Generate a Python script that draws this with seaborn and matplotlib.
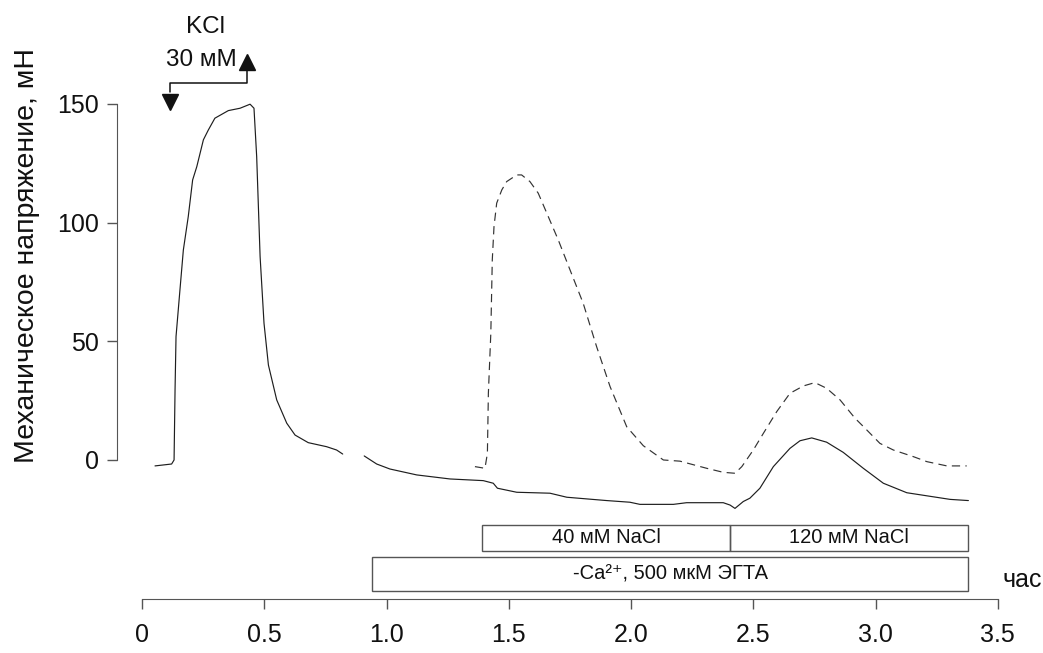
import numpy as np
import pandas as pd
import seaborn as sns
import matplotlib
matplotlib.use("Agg")
import matplotlib.pyplot as plt
from matplotlib.patches import Rectangle

# ---- data (time in hours, tension in mN) ----
solid_a_t = [0.052, 0.120, 0.130, 0.134, 0.138, 0.154, 0.168, 0.188, 0.206, 0.223, 0.250, 0.270,
             0.297, 0.352, 0.400, 0.441, 0.457, 0.468, 0.482, 0.498, 0.516, 0.550, 0.591, 0.625,
             0.679, 0.754, 0.795, 0.820]
solid_a_y = [-2.5, -1.7, 0.0, 29.5, 52.0, 71.6, 88.5, 102.5, 118.0, 123.6, 134.9, 139.0,
             144.0, 147.2, 148.2, 149.9, 148.2, 127.8, 85.7, 57.6, 40.0, 25.3, 15.5, 10.5,
             7.3, 5.6, 4.2, 2.5]

solid_b_t = [0.908, 0.959, 1.013, 1.123, 1.259, 1.395, 1.436, 1.453, 1.532, 1.668, 1.737, 1.900,
             1.995, 2.036, 2.173, 2.227, 2.377, 2.405, 2.425, 2.459, 2.486, 2.527, 2.582, 2.650,
             2.691, 2.739, 2.800, 2.868, 2.950, 3.032, 3.128, 3.305, 3.380]
solid_b_y = [1.7, -1.7, -3.8, -6.3, -8.0, -8.7, -9.8, -11.9, -13.6, -14.0, -15.7, -17.1,
             -17.8, -18.7, -18.7, -18.0, -18.0, -19.0, -20.4, -17.5, -16.1, -11.9, -2.8, 4.9,
             8.1, 9.3, 7.5, 3.2, -3.5, -9.8, -13.8, -16.6, -17.1]

dashed_t = [1.361, 1.402, 1.412, 1.416, 1.426, 1.432, 1.439, 1.450, 1.471, 1.491, 1.532, 1.552,
            1.586, 1.620, 1.655, 1.702, 1.750, 1.804, 1.859, 1.914, 1.982, 2.050, 2.132, 2.200,
            2.309, 2.377, 2.425, 2.453, 2.500, 2.541, 2.596, 2.650, 2.705, 2.752, 2.800, 2.855,
            2.916, 2.957, 3.018, 3.073, 3.155, 3.210, 3.292, 3.373]
dashed_y = [-2.8, -3.5, 2.8, 28.1, 53.4, 84.3, 98.3, 108.2, 113.8, 117.3, 120.1, 120.1,
            117.3, 112.4, 104.0, 92.7, 80.1, 66.0, 47.7, 30.9, 14.0, 6.0, 0.0, -0.5,
            -3.5, -5.2, -5.6, -2.8, 4.2, 11.2, 20.4, 28.1, 31.2, 32.6, 30.2, 25.3,
            17.6, 13.4, 7.0, 4.2, 1.4, -0.7, -2.5, -2.5]

# application periods (h)
kcl_on, kcl_off = 0.114, 0.43
nacl40 = (1.39, 2.405)
nacl120 = (2.405, 3.379)
egta = (0.94, 3.379)
box_labels = ["40 мМ NaCl", "120 мМ NaCl", "-Ca²⁺, 500 мкМ ЭГТА"]

xticks = [0, 0.5, 1.0, 1.5, 2.0, 2.5, 3.0, 3.5]
xticklabels = ["0", "0.5", "1.0", "1.5", "2.0", "2.5", "3.0", "3.5"]
yticks = [0, 50, 100, 150]

# ---- style ----
sns.set_style("ticks")
plt.rcParams['font.family'] = ['Liberation Sans', 'DejaVu Sans']

W, H = 1043, 653
fig = plt.figure(figsize=(W / 100, H / 100), dpi=100)
ax = fig.add_axes([117 / W, 1 - 599.3 / H, 923 / W, 599.3 / H])
ax.set_xlim(-0.1035, 3.673)
ax.set_ylim(-58.7, 193.8)

line_color = "#1e1e1e"
lw = 0.85
sns.lineplot(x=solid_a_t, y=solid_a_y, ax=ax, color=line_color, lw=lw, sort=False, estimator=None)
sns.lineplot(x=solid_b_t, y=solid_b_y, ax=ax, color=line_color, lw=lw, sort=False, estimator=None)
sns.lineplot(x=dashed_t, y=dashed_y, ax=ax, color="#333333", lw=lw, sort=False, estimator=None,
             linestyle=(0, (7, 4.5)))

# spines
spine_col = "#555555"
for s in ["top", "right"]:
    ax.spines[s].set_visible(False)
ax.spines["left"].set_bounds(0, 150)
ax.spines["bottom"].set_bounds(0, 3.5)
ax.spines["left"].set_color(spine_col)
ax.spines["bottom"].set_color(spine_col)
ax.set_xticks(xticks)
ax.set_xticklabels(xticklabels)
ax.set_yticks(yticks)
ax.tick_params(axis="both", direction="out", length=7, width=1, color=spine_col,
               labelsize=18, labelcolor="#111111")
ax.tick_params(axis="x", pad=10)
ax.tick_params(axis="y", pad=6)
ax.set_xlabel("")
ax.set_ylabel("")

fig.text(27 / W, 1 - 255 / H, "Механическое напряжение, мН", rotation=90,
         ha="center", va="center", fontsize=20.5, color="#111111")
ax.text(3.6, -50.6, "час", ha="center", va="center", fontsize=18, color="#111111")

# boxes
box_ec = "#555555"
for (x0, x1), (y0, y1), lab in [(nacl40, (-38.3, -27.4), box_labels[0]),
                                (nacl120, (-38.3, -27.4), box_labels[1]),
                                (egta, (-55.2, -40.9), box_labels[2])]:
    ax.add_patch(Rectangle((x0, y0), x1 - x0, y1 - y0, fill=False, ec=box_ec, lw=1, clip_on=False))
    ax.text((x0 + x1) / 2, (y0 + y1) / 2, lab, ha="center", va="center", fontsize=14.5,
            color="#111111")

# KCl application marker
ax.plot([kcl_on, kcl_on, kcl_off, kcl_off], [155.2, 158.7, 158.7, 164.3], color="#111111",
        lw=1.1, clip_on=False)
ax.plot([kcl_on], [150.8], marker="v", markersize=11, color="#111111", clip_on=False)
ax.plot([kcl_off], [167.5], marker="^", markersize=12, color="#111111", clip_on=False)
ax.text(0.257, 182.5, "KCl", ha="center", va="center", fontsize=17.5, color="#111111")
ax.text(0.243, 168.5, "30 мМ", ha="center", va="center", fontsize=17.5, color="#111111")

fig.savefig("out.png", dpi=100)
